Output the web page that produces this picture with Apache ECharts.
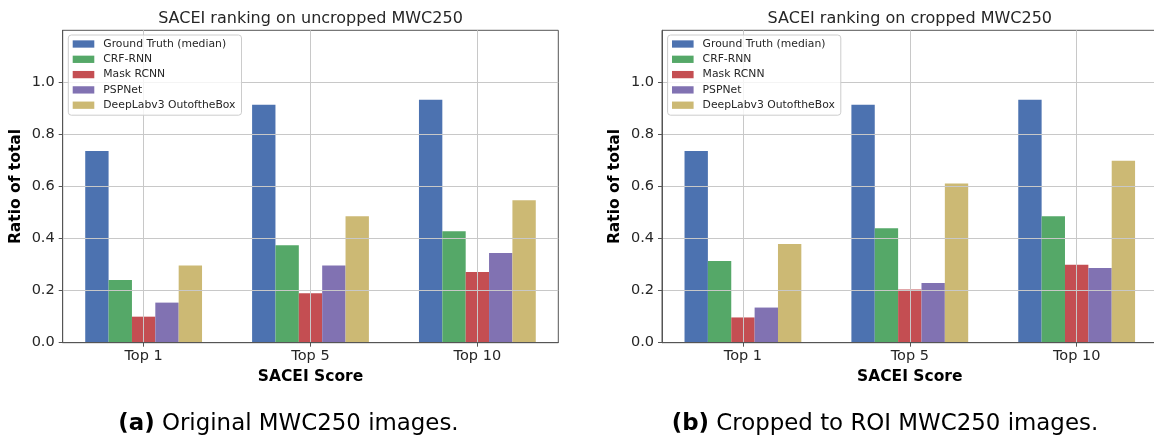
<!DOCTYPE html>
<html>
<head>
<meta charset="utf-8">
<script src="https://cdn.jsdelivr.net/npm/echarts@6/dist/echarts.min.js"></script>
<style>
  html, body { margin: 0; padding: 0; background: #fff; }
  #chart { width: 1154px; height: 436px; }
</style>
</head>
<body>
<div id="chart"></div>
<script>
// Ranking categories on the x axis
const categories = ['Top 1', 'Top 5', 'Top 10'];
const seriesNames = ['Ground Truth (median)', 'CRF-RNN', 'Mask RCNN', 'PSPNet', 'DeepLabv3 OutoftheBox'];

// (a) uncropped MWC250 images
const uncroppedGroundTruth = [0.736, 0.914, 0.933];
const uncroppedCrfRnn      = [0.241, 0.374, 0.428];
const uncroppedMaskRcnn    = [0.100, 0.190, 0.272];
const uncroppedPspNet      = [0.154, 0.297, 0.345];
const uncroppedDeepLab     = [0.297, 0.486, 0.547];

// (b) images cropped to the ROI
const croppedGroundTruth = [0.736, 0.914, 0.933];
const croppedCrfRnn      = [0.314, 0.440, 0.486];
const croppedMaskRcnn    = [0.097, 0.204, 0.299];
const croppedPspNet      = [0.135, 0.229, 0.287];
const croppedDeepLab     = [0.379, 0.612, 0.699];

const yTicks = [0, 0.2, 0.4, 0.6, 0.8, 1.0];
const xTicks = [0, 1, 2];
const palette = ['#4C72B0', '#55A868', '#C44E52', '#8172B2', '#CCB974'];

const PLOT_W = 495.6;
const panels = [
  { left: 62.7, title: 'SACEI ranking on uncropped MWC250',
    values: [uncroppedGroundTruth, uncroppedCrfRnn, uncroppedMaskRcnn, uncroppedPspNet, uncroppedDeepLab] },
  { left: 662, title: 'SACEI ranking on cropped MWC250',
    values: [croppedGroundTruth, croppedCrfRnn, croppedMaskRcnn, croppedPspNet, croppedDeepLab] }
];

const FONT = 'DejaVu Sans';
const INK = '#262626';
const SPINE = '#555555';
const GRIDLINE = '#c8c8c8';
const PLOT_TOP = 30.3;
const PLOT_H = 312.4;

const grid = [], xAxis = [], yAxis = [], series = [], legend = [], title = [];

panels.forEach((p, gi) => {
  // the second panel runs past the right edge of the page
  grid.push({
    left: p.left, top: PLOT_TOP, width: PLOT_W, height: PLOT_H,
    outerBoundsMode: 'none', containLabel: false,
    show: true, borderColor: SPINE, borderWidth: 1, backgroundColor: 'transparent'
  });
  // axes sit on their own layer so the grid lines are drawn over the bars
  xAxis.push({
    type: 'value', gridIndex: gi, min: -0.485, max: 2.485, zlevel: 1,
    axisLine: { show: true, onZero: false, lineStyle: { color: SPINE, width: 1 } },
    axisTick: { show: true, customValues: xTicks, length: 4, lineStyle: { color: SPINE } },
    axisLabel: {
      customValues: xTicks, margin: 6,
      formatter: v => categories[Math.round(v)],
      fontFamily: FONT, fontSize: 14.5, color: INK
    },
    splitLine: { show: true, lineStyle: { color: GRIDLINE, width: 1 } },
    name: 'SACEI Score', nameLocation: 'middle', nameGap: 24,
    nameTextStyle: { fontFamily: FONT, fontWeight: 'bold', fontSize: 15.5, color: '#000' }
  });
  yAxis.push({
    type: 'value', gridIndex: gi, min: 0, max: 1.2, zlevel: 1,
    axisLine: { show: true, onZero: false, lineStyle: { color: SPINE, width: 1 } },
    axisTick: { show: true, customValues: yTicks, length: 4, lineStyle: { color: SPINE } },
    axisLabel: {
      customValues: yTicks, margin: 8,
      formatter: v => v.toFixed(1),
      fontFamily: FONT, fontSize: 14.5, color: INK
    },
    splitLine: { show: true, lineStyle: { color: GRIDLINE, width: 1 } },
    name: 'Ratio of total', nameLocation: 'middle', nameGap: 39,
    nameTextStyle: { fontFamily: FONT, fontWeight: 'bold', fontSize: 15.5, color: '#000' }
  });
  p.values.forEach((vals, si) => {
    series.push({
      type: 'bar', name: seriesNames[si],
      xAxisIndex: gi, yAxisIndex: gi,
      barWidth: '14%', barGap: '0%',
      itemStyle: { color: palette[si] },
      data: vals.map((v, i) => [xTicks[i], v])
    });
  });
  legend.push({
    data: seriesNames, orient: 'vertical', align: 'left',
    left: p.left + 5.6, top: 35, zlevel: 2,
    icon: 'rect', itemWidth: 21.6, itemHeight: 7.3, itemGap: 2.3,
    padding: [2.5, 6, 3.5, 4.4],
    backgroundColor: 'rgba(255,255,255,0.8)',
    borderColor: '#cccccc', borderWidth: 1, borderRadius: 3,
    selectedMode: false,
    itemStyle: { borderWidth: 0 },
    textStyle: { fontFamily: FONT, fontSize: 10.8, color: INK, lineHeight: 13, padding: [0, 0, 0, 4] }
  });
  title.push({
    text: p.title, left: p.left + PLOT_W / 2, top: 19, padding: 0,
    textAlign: 'center', textVerticalAlign: 'middle',
    textStyle: { fontFamily: FONT, fontSize: 16, fontWeight: 'normal', color: INK }
  });
});

// Sub-figure captions
const captionStyle = {
  fontFamily: FONT, fontSize: 22.9, fontWeight: 'normal', color: '#000',
  rich: { b: { fontFamily: FONT, fontSize: 22.9, fontWeight: 'bold', color: '#000' } }
};
title.push({ text: '{b|(a)} Original MWC250 images.', left: 118.3, top: 424, padding: 0,
  textVerticalAlign: 'middle', textStyle: captionStyle });
title.push({ text: '{b|(b)} Cropped to ROI MWC250 images.', left: 671.7, top: 424, padding: 0,
  textVerticalAlign: 'middle', textStyle: captionStyle });

const chart = echarts.init(document.getElementById('chart'), null, { renderer: 'canvas' });
chart.setOption({
  animation: false,
  backgroundColor: '#ffffff',
  title, legend, grid, xAxis, yAxis, series
});
</script>
</body>
</html>
